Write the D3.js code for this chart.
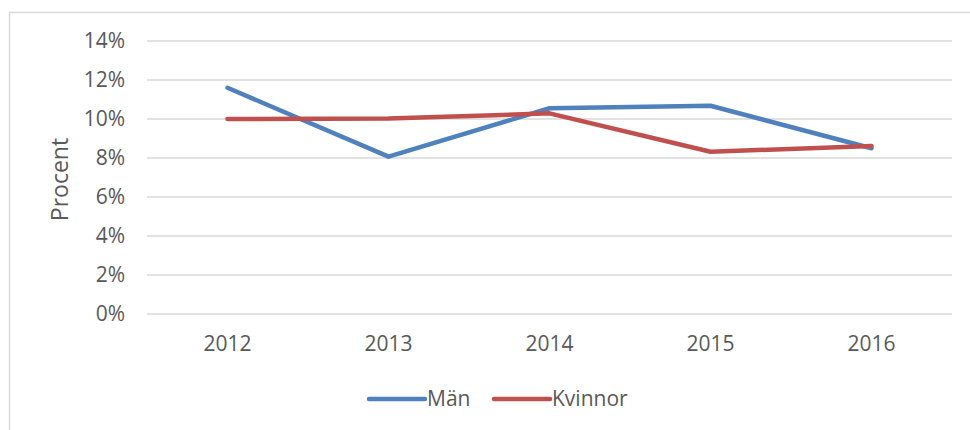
<!DOCTYPE html>
<html>
<head>
<meta charset="utf-8">
<script src="https://cdn.jsdelivr.net/npm/d3@7"></script>
<style>
  body { margin: 0; background: #fff; }
  svg { display: block; font-family: "Open Sans", sans-serif; }
</style>
</head>
<body>
<svg id="chart"></svg>
<script>
const width = 970;
const height = 430;
const margin = { top: 41, right: 18, bottom: 116, left: 147 };

// data (percent)
const years = ["2012", "2013", "2014", "2015", "2016"];
const man = [11.6, 8.07, 10.55, 10.68, 8.5];
const kvinnor = [10.0, 10.02, 10.29, 8.32, 8.62];
const yTicks = [0, 2, 4, 6, 8, 10, 12, 14];
const seriesNames = ["Män", "Kvinnor"];
const colors = ["#4f81bd", "#c0504d"];

const svg = d3.select("#chart")
    .attr("width", width)
    .attr("height", height);

// outer frame (only top and left visible in the reference)
svg.append("rect")
    .attr("x", 9.5)
    .attr("y", 12.5)
    .attr("width", width + 20)
    .attr("height", height + 20)
    .attr("fill", "none")
    .attr("stroke", "#d9d9d9")
    .attr("stroke-width", 1.5);

const x = d3.scaleBand()
    .domain(years)
    .range([margin.left, width - margin.right]);

const y = d3.scaleLinear()
    .domain([0, 14])
    .range([height - margin.bottom, margin.top]);

// gridlines
svg.append("g")
    .selectAll("line")
    .data(yTicks)
    .join("line")
    .attr("x1", margin.left)
    .attr("x2", width - margin.right)
    .attr("y1", d => y(d))
    .attr("y2", d => y(d))
    .attr("stroke", "#d9d9d9")
    .attr("stroke-width", 1.5);

// y axis labels
const yAxis = svg.append("g")
    .attr("transform", `translate(${margin.left - 22},0)`)
    .call(d3.axisLeft(y).tickValues(yTicks).tickFormat(d => d + "%").tickSize(0).tickPadding(0));
yAxis.select(".domain").remove();
yAxis.selectAll("text")
    .attr("fill", "#595959")
    .style("font-size", "21px")
    .style("font-family", "'Open Sans', sans-serif");

// x axis labels
const xAxis = svg.append("g")
    .attr("transform", `translate(0,${height - margin.bottom})`)
    .call(d3.axisBottom(x).tickSize(0).tickPadding(22));
xAxis.select(".domain").remove();
xAxis.selectAll("text")
    .attr("fill", "#595959")
    .style("font-size", "21px")
    .style("font-family", "'Open Sans', sans-serif");

// y title
svg.append("text")
    .attr("transform", `translate(68,${(y(0) + y(14)) / 2 + 2}) rotate(-90)`)
    .attr("text-anchor", "middle")
    .attr("fill", "#595959")
    .style("font-size", "23px")
    .text("Procent");

// lines
const line = d3.line()
    .x((d, i) => x(years[i]) + x.bandwidth() / 2)
    .y(d => y(d));

[man, kvinnor].forEach((vals, i) => {
    svg.append("path")
        .datum(vals)
        .attr("d", line)
        .attr("fill", "none")
        .attr("stroke", colors[i])
        .attr("stroke-width", 4.5)
        .attr("stroke-linejoin", "round")
        .attr("stroke-linecap", "round");
});

// legend
const legendX = [369, 494];
const legend = svg.append("g")
    .selectAll("g")
    .data(seriesNames)
    .join("g")
    .attr("transform", (d, i) => `translate(${legendX[i]},399)`);

legend.append("line")
    .attr("x1", 0)
    .attr("x2", 56)
    .attr("stroke", (d, i) => colors[i])
    .attr("stroke-width", 4.5)
    .attr("stroke-linecap", "round");

legend.append("text")
    .attr("x", 58)
    .attr("dy", "0.35em")
    .attr("fill", "#595959")
    .style("font-size", "21px")
    .text(d => d);
</script>
</body>
</html>
